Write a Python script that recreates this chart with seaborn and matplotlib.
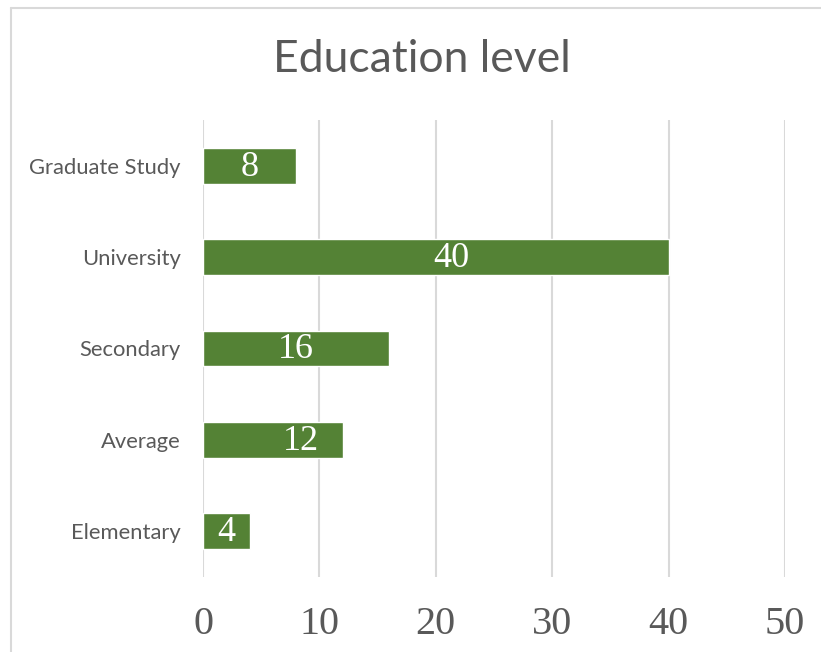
import matplotlib
matplotlib.use("Agg")
import matplotlib.pyplot as plt
from matplotlib.lines import Line2D
import seaborn as sns
import pandas as pd

categories = ["Graduate Study", "University", "Secondary", "Average", "Elementary"]
counts = [8, 40, 16, 12, 4]
x_ticks = [0, 10, 20, 30, 40, 50]

# horizontal nudge of each value label, in points (labels were dragged in the source)
label_shift_pt = [0, 11, 0, 20, 0]

sns.set_theme(style="white")
plt.rcParams["font.family"] = ["Lato", "DejaVu Sans"]

df = pd.DataFrame({"level": categories, "count": counts})

fig = plt.figure(figsize=(8.21, 6.52), dpi=100)
ax = fig.add_axes([203 / 821, 1 - 577 / 652, (785 - 203) / 821, (577 - 120) / 652])

sns.barplot(data=df, y="level", x="count", orient="h", color="#548235",
            saturation=1, width=0.39, ax=ax, zorder=3)

serif = ["Liberation Serif", "DejaVu Serif"]
for patch, val, dx in zip(ax.patches, counts, label_shift_pt):
    cx = patch.get_x() + patch.get_width() / 2
    cy = patch.get_y() + patch.get_height() / 2
    ax.annotate(f"{val}", (cx, cy), xytext=(dx, -1), textcoords="offset points",
                ha="center", va="center", color="white",
                fontsize=26, family=serif, zorder=4)

ax.set_xlim(0, 50)
ax.set_xticks(x_ticks)
ax.set_xticklabels([str(t) for t in x_ticks], family=serif, fontsize=29, color="#595959")
ax.tick_params(axis="x", length=0, pad=21)
ax.tick_params(axis="y", length=0, pad=16, labelsize=15.8, labelcolor="#595959")
ax.xaxis.grid(True, color="#d9d9d9", linewidth=1.5, zorder=0)
ax.yaxis.grid(False)
for s in ax.spines.values():
    s.set_visible(False)
ax.set_xlabel("")
ax.set_ylabel("")

fig.text(421.5 / 821, 1 - 60 / 652, "Education level", ha="center", va="center",
         fontsize=32, color="#595959", family=["Lato", "DejaVu Sans"])

# outer chart frame
fig.add_artist(Line2D([11 / 821, 1], [1 - 7.5 / 652, 1 - 7.5 / 652],
                      transform=fig.transFigure, color="#d9d9d9", linewidth=1.5))
fig.add_artist(Line2D([11 / 821, 11 / 821], [0, 1 - 7.5 / 652],
                      transform=fig.transFigure, color="#d9d9d9", linewidth=1.5))

fig.savefig("out.png", dpi=100)
